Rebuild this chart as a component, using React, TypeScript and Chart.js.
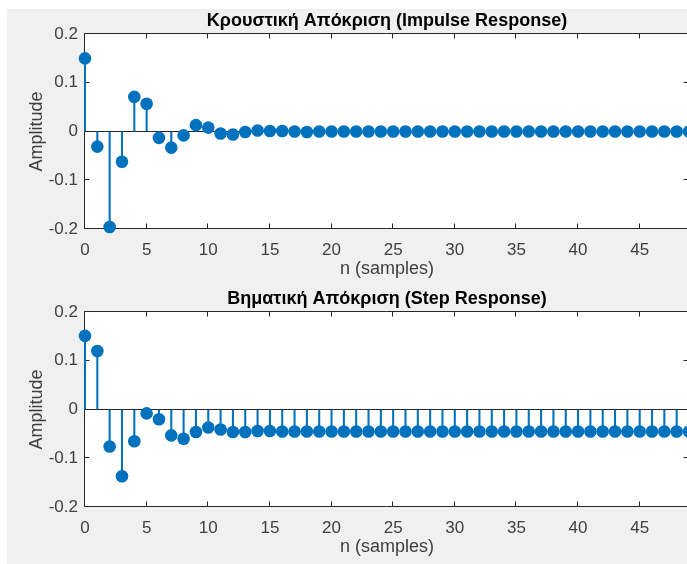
import React, { useEffect, useRef } from 'react';
import { Chart, registerables } from 'chart.js';

Chart.register(...registerables);

// ---- data ----
const impulseTitle = 'Κρουστική Απόκριση (Impulse Response)';
const stepTitle = 'Βηματική Απόκριση (Step Response)';
const xLabel = 'n (samples)';
const yLabel = 'Amplitude';

const impulseValues = [
  0.150, -0.031, -0.196, -0.062, 0.071, 0.057, -0.013, -0.033, -0.008, 0.013,
  0.008, -0.004, -0.006, -0.001, 0.002, 0.001, 0.001, 0.000, -0.001, 0.000,
  0.000, 0.000, 0.000, 0.000, 0.000, 0.000, 0.000, 0.000, 0.000, 0.000,
  0.000, 0.000, 0.000, 0.000, 0.000, 0.000, 0.000, 0.000, 0.000, 0.000,
  0.000, 0.000, 0.000, 0.000, 0.000, 0.000, 0.000, 0.000, 0.000, 0.000,
];

const stepValues = [
  0.151, 0.120, -0.076, -0.137, -0.065, -0.008, -0.020, -0.053, -0.060, -0.046,
  -0.037, -0.041, -0.046, -0.046, -0.044, -0.044, -0.045, -0.045, -0.045, -0.045,
  -0.045, -0.045, -0.045, -0.045, -0.045, -0.045, -0.045, -0.045, -0.045, -0.045,
  -0.045, -0.045, -0.045, -0.045, -0.045, -0.045, -0.045, -0.045, -0.045, -0.045,
  -0.045, -0.045, -0.045, -0.045, -0.045, -0.045, -0.045, -0.045, -0.045, -0.045,
];

const xTickValues = [0, 5, 10, 15, 20, 25, 30, 35, 40, 45];
const yTickValues = [-0.2, -0.1, 0, 0.1, 0.2];
const xMin = 0;
const xMax = 49;
const yMin = -0.2;
const yMax = 0.2;

// ---- style ----
const FONT = "'Liberation Sans', Arial, Helvetica, sans-serif";
const STEM_COLOR = '#0072BD';
const AXIS_COLOR = '#262626';
const TEXT_COLOR = '#404040';

const axesBoxPlugin = {
  id: 'axesBox',
  beforeDraw(chart: any) {
    const { ctx, chartArea: a } = chart;
    ctx.save();
    ctx.fillStyle = '#ffffff';
    ctx.fillRect(a.left, a.top, a.right - a.left, a.bottom - a.top);
    ctx.restore();
  },
  beforeDatasetsDraw(chart: any) {
    const { ctx, chartArea: a, scales } = chart;
    const L = Math.round(a.left) - 0.5;
    const R = Math.round(a.right) - 0.5;
    const T = Math.round(a.top) - 0.5;
    const B = Math.round(a.bottom) - 0.5;
    const tl = 5;
    ctx.save();
    ctx.strokeStyle = AXIS_COLOR;
    ctx.lineWidth = 1;
    ctx.beginPath();
    ctx.rect(L, T, R - L, B - T);
    scales.x.ticks.forEach((t: any) => {
      const px = Math.round(scales.x.getPixelForValue(t.value)) - 0.5;
      ctx.moveTo(px, B);
      ctx.lineTo(px, B - tl);
      ctx.moveTo(px, T);
      ctx.lineTo(px, T + tl);
    });
    scales.y.ticks.forEach((t: any) => {
      const py = Math.round(scales.y.getPixelForValue(t.value)) - 0.5;
      ctx.moveTo(L, py);
      ctx.lineTo(L + tl, py);
      ctx.moveTo(R, py);
      ctx.lineTo(R - tl, py);
    });
    ctx.stroke();
    ctx.restore();
  },
};

function StemPlot({ title, values, top }: { title: string; values: number[]; top: number }) {
  const ref = useRef<HTMLCanvasElement | null>(null);

  useEffect(() => {
    if (!ref.current) return;
    const points = values.map((v, i) => ({ x: i, y: v }));
    const chart = new Chart(ref.current, {
      type: 'bar',
      data: {
        datasets: [
          {
            type: 'scatter',
            data: points,
            pointRadius: 6.3,
            pointHoverRadius: 6.3,
            pointBackgroundColor: STEM_COLOR,
            pointBorderColor: STEM_COLOR,
            pointBorderWidth: 0,
            showLine: false,
            clip: false,
            order: 0,
          } as any,
          {
            type: 'bar',
            data: points,
            backgroundColor: STEM_COLOR,
            barThickness: 1.4,
            grouped: false,
            clip: false,
            order: 1,
          } as any,
        ],
      },
      options: {
        responsive: false,
        animation: false,
        devicePixelRatio: 1,
        layout: { padding: { left: 0, top: 0, right: 11, bottom: 0 } },
        plugins: {
          legend: { display: false },
          tooltip: { enabled: false },
          title: {
            display: true,
            text: title,
            fullSize: false,
            color: '#000000',
            font: { family: FONT, size: 18, weight: 'bold' },
            padding: { top: 10.2, bottom: 2.2 },
          },
        },
        scales: {
          x: {
            type: 'linear',
            offset: false,
            min: xMin,
            max: xMax,
            afterBuildTicks: (s: any) => {
              s.ticks = xTickValues.map((v) => ({ value: v }));
            },
            afterFit: (s: any) => {
              s.height = 61;
            },
            grid: { display: false, drawTicks: false },
            border: { display: false },
            ticks: {
              autoSkip: false,
              maxRotation: 0,
              padding: 11,
              color: TEXT_COLOR,
              font: { family: FONT, size: 17 },
              callback: (v: any) => String(v),
            },
            title: {
              display: true,
              text: xLabel,
              color: TEXT_COLOR,
              font: { family: FONT, size: 18 },
              padding: { top: 0, bottom: 10.2 },
            },
          },
          y: {
            type: 'linear',
            min: yMin,
            max: yMax,
            afterBuildTicks: (s: any) => {
              s.ticks = yTickValues.map((v) => ({ value: v }));
            },
            afterFit: (s: any) => {
              s.width = 85;
            },
            grid: {
              drawTicks: false,
              lineWidth: 1,
              color: (c: any) =>
                c.tick && Math.abs(c.tick.value) < 1e-9 ? AXIS_COLOR : 'rgba(0,0,0,0)',
            },
            border: { display: false },
            ticks: {
              padding: 7,
              color: TEXT_COLOR,
              font: { family: FONT, size: 17 },
              callback: (v: any) => (Math.abs(v) < 1e-9 ? '0' : Number(v).toFixed(1)),
            },
            title: {
              display: true,
              text: yLabel,
              color: TEXT_COLOR,
              font: { family: FONT, size: 18 },
              padding: { top: 26.2, bottom: 0 },
            },
          },
        },
      },
      plugins: [axesBoxPlugin],
    });
    return () => chart.destroy();
  }, [title, values]);

  return (
    <canvas
      ref={ref}
      width={700}
      height={290}
      style={{ position: 'absolute', left: 0, top, width: 700, height: 290 }}
    />
  );
}

export default function App() {
  return (
    <div
      style={{
        position: 'fixed',
        left: 0,
        top: 0,
        width: 687,
        height: 564,
        overflow: 'hidden',
        background: '#ffffff',
      }}
    >
      <div
        style={{
          position: 'absolute',
          left: 7,
          top: 9,
          right: 0,
          bottom: 0,
          background: '#f0f0f0',
        }}
      />
      <StemPlot title={impulseTitle} values={impulseValues} top={0} />
      <StemPlot title={stepTitle} values={stepValues} top={278} />
    </div>
  );
}
